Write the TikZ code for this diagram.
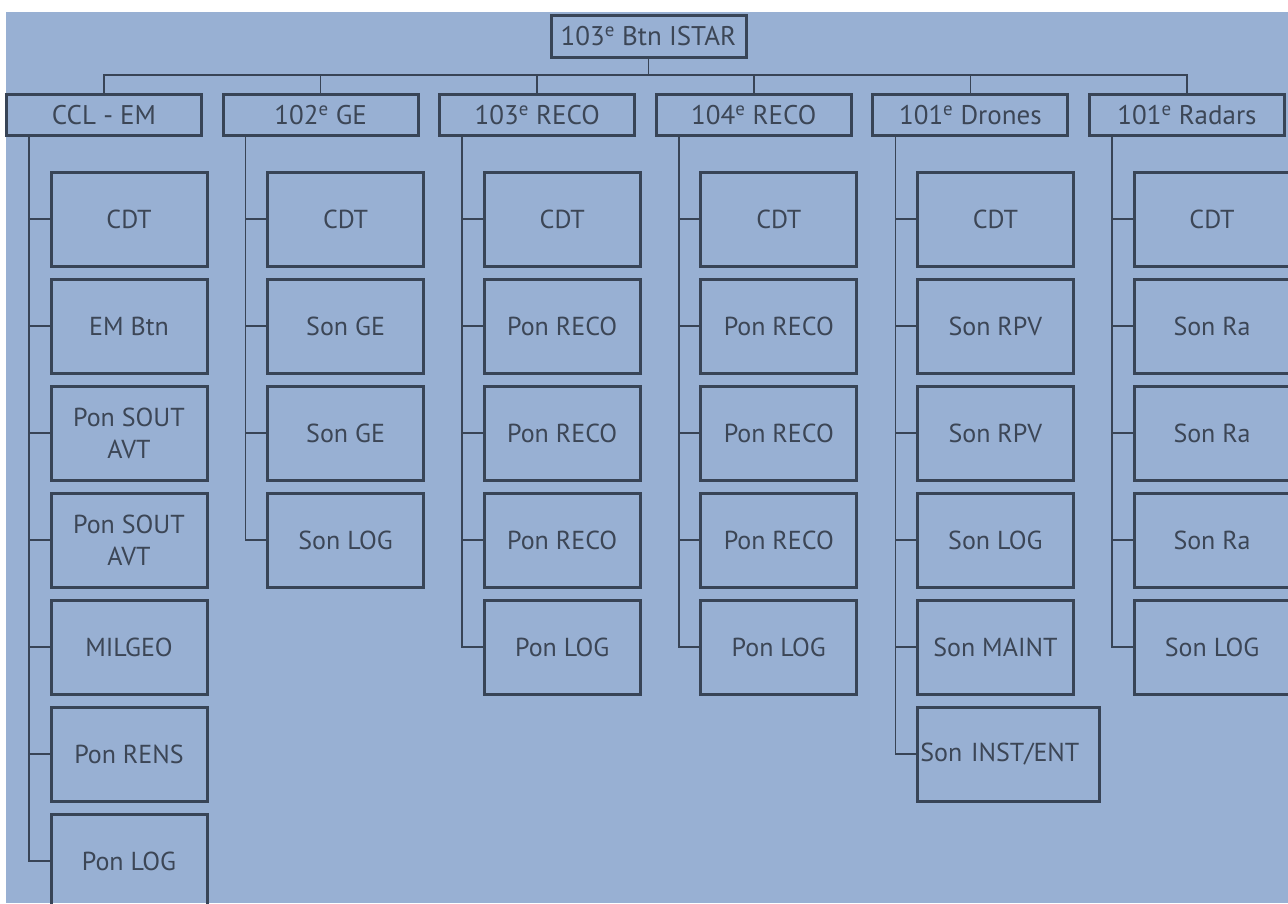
\documentclass[tikz,border=0pt]{standalone}
\usepackage{fontspec}
\setmainfont{PT Sans}
\usepackage{tikz}

\definecolor{fondbleu}{RGB}{152,176,211}
\definecolor{trait}{RGB}{56,68,86}
\definecolor{texte}{RGB}{60,70,86}

\tikzset{
  unite/.style={draw=trait, line width=3pt, minimum width=195pt, minimum height=41pt,
    inner sep=0pt, text=texte, font=\fontsize{27}{30}\selectfont},
  sousunite/.style={draw=trait, line width=3pt, minimum width=156pt, minimum height=94pt,
    inner sep=0pt, align=center, text=texte, font=\fontsize{26}{32}\selectfont},
  lien/.style={draw=trait, line width=1.5pt},
}

\begin{document}
\begin{tikzpicture}[x=1pt,y=-1pt]
    % Fond
    \useasboundingbox (0,0) rectangle (1288,903);
    \fill[fondbleu] (6,12) rectangle (1288,903);

    % Bataillon
    \node[unite, minimum height=42pt] (istar) at (648.5,36) {103\textsuperscript{e} Btn ISTAR};
    \coordinate (bus) at (648.5,75);
    \draw[lien] (istar) -- (bus);

    % Unités
    \foreach \n/\t [count=\i from 0] in {ccl/CCL - EM, ge/102\textsuperscript{e} GE,
        recoa/103\textsuperscript{e} RECO, recob/104\textsuperscript{e} RECO,
        drones/101\textsuperscript{e} Drones, radars/101\textsuperscript{e} Radars} {
        \node[unite] (\n) at (104+216.6*\i,115) {\t};
        \coordinate (\n-t) at ([xshift=24pt]\n.south west);
    }
    \draw[lien] (ccl.north) -- (ccl.north |- bus) -- (radars.north |- bus) -- (radars.north);
    \foreach \n in {ge,recoa,recob,drones}
        \draw[lien] (\n.north) -- (\n.north |- bus);

    % CCL - EM
    \foreach \t [count=\j] in {CDT, EM Btn, {Pon SOUT\\AVT}, {Pon SOUT\\AVT}, MILGEO, Pon RENS, Pon LOG}
        \node[sousunite] (ccl-\j) at (129,112+107*\j) {\t};
    \draw[lien] (ccl-t) |- (ccl-7);
    \foreach \j in {1,...,6}
        \draw[lien] (ccl-\j) -- (ccl-t |- ccl-\j);

    % 102e GE
    \foreach \t [count=\j] in {CDT, Son GE, Son GE, Son LOG}
        \node[sousunite] (ge-\j) at (345.6,112+107*\j) {\t};
    \draw[lien] (ge-t) |- (ge-4);
    \foreach \j in {1,...,3}
        \draw[lien] (ge-\j) -- (ge-t |- ge-\j);

    % 103e RECO
    \foreach \t [count=\j] in {CDT, Pon RECO, Pon RECO, Pon RECO, Pon LOG}
        \node[sousunite] (recoa-\j) at (562.2,112+107*\j) {\t};
    \draw[lien] (recoa-t) |- (recoa-5);
    \foreach \j in {1,...,4}
        \draw[lien] (recoa-\j) -- (recoa-t |- recoa-\j);

    % 104e RECO
    \foreach \t [count=\j] in {CDT, Pon RECO, Pon RECO, Pon RECO, Pon LOG}
        \node[sousunite] (recob-\j) at (778.8,112+107*\j) {\t};
    \draw[lien] (recob-t) |- (recob-5);
    \foreach \j in {1,...,4}
        \draw[lien] (recob-\j) -- (recob-t |- recob-\j);

    % 101e Drones
    \foreach \t [count=\j] in {CDT, Son RPV, Son RPV, Son LOG, Son MAINT}
        \node[sousunite] (drones-\j) at (995.4,112+107*\j) {\t};
    \node[sousunite, minimum width=182pt, text width=176pt, inner xsep=3pt, align=left]
        (drones-6) at (1008.4,754) {Son INST/ENT};
    \draw[lien] (drones-t) |- (drones-6);
    \foreach \j in {1,...,5}
        \draw[lien] (drones-\j) -- (drones-t |- drones-\j);

    % 101e Radars
    \foreach \t [count=\j] in {CDT, Son Ra, Son Ra, Son Ra, Son LOG}
        \node[sousunite] (radars-\j) at (1212,112+107*\j) {\t};
    \draw[lien] (radars-t) |- (radars-5);
    \foreach \j in {1,...,4}
        \draw[lien] (radars-\j) -- (radars-t |- radars-\j);
\end{tikzpicture}
\end{document}
